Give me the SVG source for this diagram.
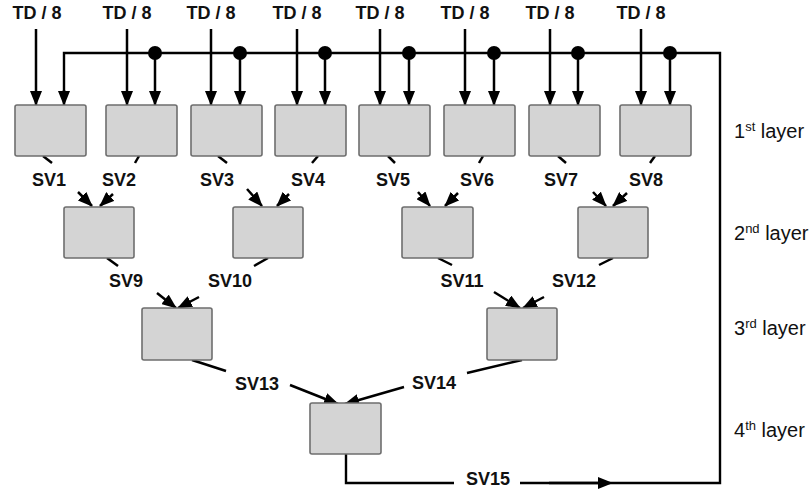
<svg xmlns="http://www.w3.org/2000/svg" width="812" height="490" viewBox="0 0 812 490">
<style>
.box{fill:#d4d4d4;stroke:#6e6e6e;stroke-width:1.6}
.ln{fill:none;stroke:#000;stroke-width:2.5;stroke-linecap:butt}
.bus{fill:none;stroke:#000;stroke-width:2.4}
.ar{fill:none;stroke:#000;stroke-width:2.5;marker-end:url(#ah)}
.lbl{font-family:"Liberation Sans",Arial,sans-serif;font-weight:bold;font-size:18px;fill:#111;text-anchor:middle}
.lay{font-family:"Liberation Sans",Arial,sans-serif;font-size:20px;fill:#111}
.sup{font-size:13px}
</style>
<defs>
<marker id="ah" viewBox="0 0 15 12" refX="14" refY="6" markerWidth="15" markerHeight="12" markerUnits="userSpaceOnUse" orient="auto">
<path d="M0,0 L15,6 L0,12 z" fill="#000"/>
</marker>
</defs>
<rect width="812" height="490" fill="#fff"/>

<g id="connectors">
<!-- bus / feedback -->
<polyline class="bus" points="346,454 346,483 454,483"/>
<polyline class="bus" points="520,483 720,483 720,53 64,53 64,92"/>
<path class="ar" d="M64,90 L64,105"/>
<path d="M598,477 L613,483 L598,489 z" fill="#000"/>
<line class="ln" x1="549" y1="483" x2="600" y2="483"/>
<!-- bus taps -->
<g fill="#000">
<circle cx="155" cy="53" r="7"/><circle cx="240" cy="53" r="7"/><circle cx="325" cy="53" r="7"/><circle cx="409" cy="53" r="7"/><circle cx="494" cy="53" r="7"/><circle cx="578" cy="53" r="7"/><circle cx="670" cy="53" r="7"/>
</g>
<path class="ar" d="M155,53 L155,105"/><path class="ar" d="M240,53 L240,105"/><path class="ar" d="M325,53 L325,105"/><path class="ar" d="M409,53 L409,105"/><path class="ar" d="M494,53 L494,105"/><path class="ar" d="M578,53 L578,105"/><path class="ar" d="M670,53 L670,105"/>
<!-- TD inputs -->
<path class="ar" d="M36,29 L36,105"/><path class="ar" d="M127,29 L127,105"/><path class="ar" d="M211,29 L211,105"/><path class="ar" d="M297,29 L297,105"/><path class="ar" d="M380,29 L380,105"/><path class="ar" d="M465,29 L465,105"/><path class="ar" d="M550,29 L550,105"/><path class="ar" d="M641,29 L641,105"/>
<!-- layer1 stubs -->
<line class="ln" x1="43" y1="156" x2="52" y2="163"/>
<line class="ln" x1="139" y1="156" x2="135" y2="163"/>
<line class="ln" x1="218" y1="156" x2="227" y2="163"/>
<line class="ln" x1="318" y1="156" x2="312" y2="163"/>
<line class="ln" x1="388" y1="156" x2="395" y2="163"/>
<line class="ln" x1="483" y1="156" x2="479" y2="163"/>
<line class="ln" x1="558" y1="156" x2="566" y2="163"/>
<line class="ln" x1="655" y1="156" x2="650" y2="163"/>
<!-- layer1 -> layer2 arrows -->
<path class="ar" d="M78,192 L92,206"/>
<path class="ar" d="M113,194 L100,206"/>
<path class="ar" d="M247,189 L262,206"/>
<path class="ar" d="M289,194 L277,206"/>
<path class="ar" d="M418,192 L430,206"/>
<path class="ar" d="M458,193 L445,206"/>
<path class="ar" d="M593,192 L606,206"/>
<path class="ar" d="M627,193 L613,206"/>
<!-- layer2 stubs -->
<line class="ln" x1="107" y1="258" x2="118" y2="266"/>
<line class="ln" x1="268" y1="258" x2="254" y2="266"/>
<line class="ln" x1="438" y1="258" x2="452" y2="265"/>
<line class="ln" x1="613" y1="258" x2="599" y2="265"/>
<!-- layer2 -> layer3 arrows -->
<path class="ar" d="M157,293 L176,308"/>
<path class="ar" d="M199,297 L178,308"/>
<path class="ar" d="M494,292 L520,308"/>
<path class="ar" d="M544,297 L523,308"/>
<!-- layer3 stubs -->
<line class="ln" x1="192" y1="360" x2="226" y2="371"/>
<line class="ln" x1="522" y1="360" x2="467" y2="373"/>
<!-- layer3 -> layer4 arrows -->
<path class="ar" d="M290,385 L338,404"/>
<path class="ar" d="M404,387 L345,404"/>
</g>

<g id="n1"><rect class="box" x="15" y="105" width="71" height="51" rx="2"/></g>
<g id="n2"><rect class="box" x="106" y="105" width="71" height="51" rx="2"/></g>
<g id="n3"><rect class="box" x="191" y="105" width="71" height="51" rx="2"/></g>
<g id="n4"><rect class="box" x="275" y="105" width="71" height="51" rx="2"/></g>
<g id="n5"><rect class="box" x="359" y="105" width="71" height="51" rx="2"/></g>
<g id="n6"><rect class="box" x="444" y="105" width="71" height="51" rx="2"/></g>
<g id="n7"><rect class="box" x="529" y="105" width="71" height="51" rx="2"/></g>
<g id="n8"><rect class="box" x="620" y="105" width="71" height="51" rx="2"/></g>
<g id="n9"><rect class="box" x="64" y="207" width="70" height="51" rx="2"/></g>
<g id="n10"><rect class="box" x="233" y="207" width="70" height="51" rx="2"/></g>
<g id="n11"><rect class="box" x="402" y="207" width="71" height="51" rx="2"/></g>
<g id="n12"><rect class="box" x="578" y="207" width="70" height="51" rx="2"/></g>
<g id="n13"><rect class="box" x="142" y="308" width="70" height="52" rx="2"/></g>
<g id="n14"><rect class="box" x="487" y="308" width="70" height="52" rx="2"/></g>
<g id="n15"><rect class="box" x="310" y="403" width="71" height="51" rx="2"/></g>

<g id="labels">
<text class="lbl" x="37" y="19">TD / 8</text>
<text class="lbl" x="127" y="19">TD / 8</text>
<text class="lbl" x="211" y="19">TD / 8</text>
<text class="lbl" x="297" y="19">TD / 8</text>
<text class="lbl" x="380" y="19">TD / 8</text>
<text class="lbl" x="465" y="19">TD / 8</text>
<text class="lbl" x="550" y="19">TD / 8</text>
<text class="lbl" x="641" y="19">TD / 8</text>
<text class="lbl" x="49" y="186">SV1</text>
<text class="lbl" x="119" y="186">SV2</text>
<text class="lbl" x="217" y="186">SV3</text>
<text class="lbl" x="308" y="186">SV4</text>
<text class="lbl" x="393" y="186">SV5</text>
<text class="lbl" x="477" y="186">SV6</text>
<text class="lbl" x="561" y="186">SV7</text>
<text class="lbl" x="646" y="186">SV8</text>
<text class="lbl" x="126" y="287">SV9</text>
<text class="lbl" x="230" y="287">SV10</text>
<text class="lbl" x="462" y="287">SV11</text>
<text class="lbl" x="574" y="287">SV12</text>
<text class="lbl" x="257" y="390">SV13</text>
<text class="lbl" x="434" y="389">SV14</text>
<text class="lbl" x="488" y="485">SV15</text>
<text class="lay" x="734" y="138">1<tspan class="sup" dy="-7">st</tspan><tspan dy="7"> layer</tspan></text>
<text class="lay" x="734" y="240">2<tspan class="sup" dy="-7">nd</tspan><tspan dy="7"> layer</tspan></text>
<text class="lay" x="734" y="335">3<tspan class="sup" dy="-7">rd</tspan><tspan dy="7"> layer</tspan></text>
<text class="lay" x="734" y="437">4<tspan class="sup" dy="-7">th</tspan><tspan dy="7"> layer</tspan></text>
</g>
</svg>
